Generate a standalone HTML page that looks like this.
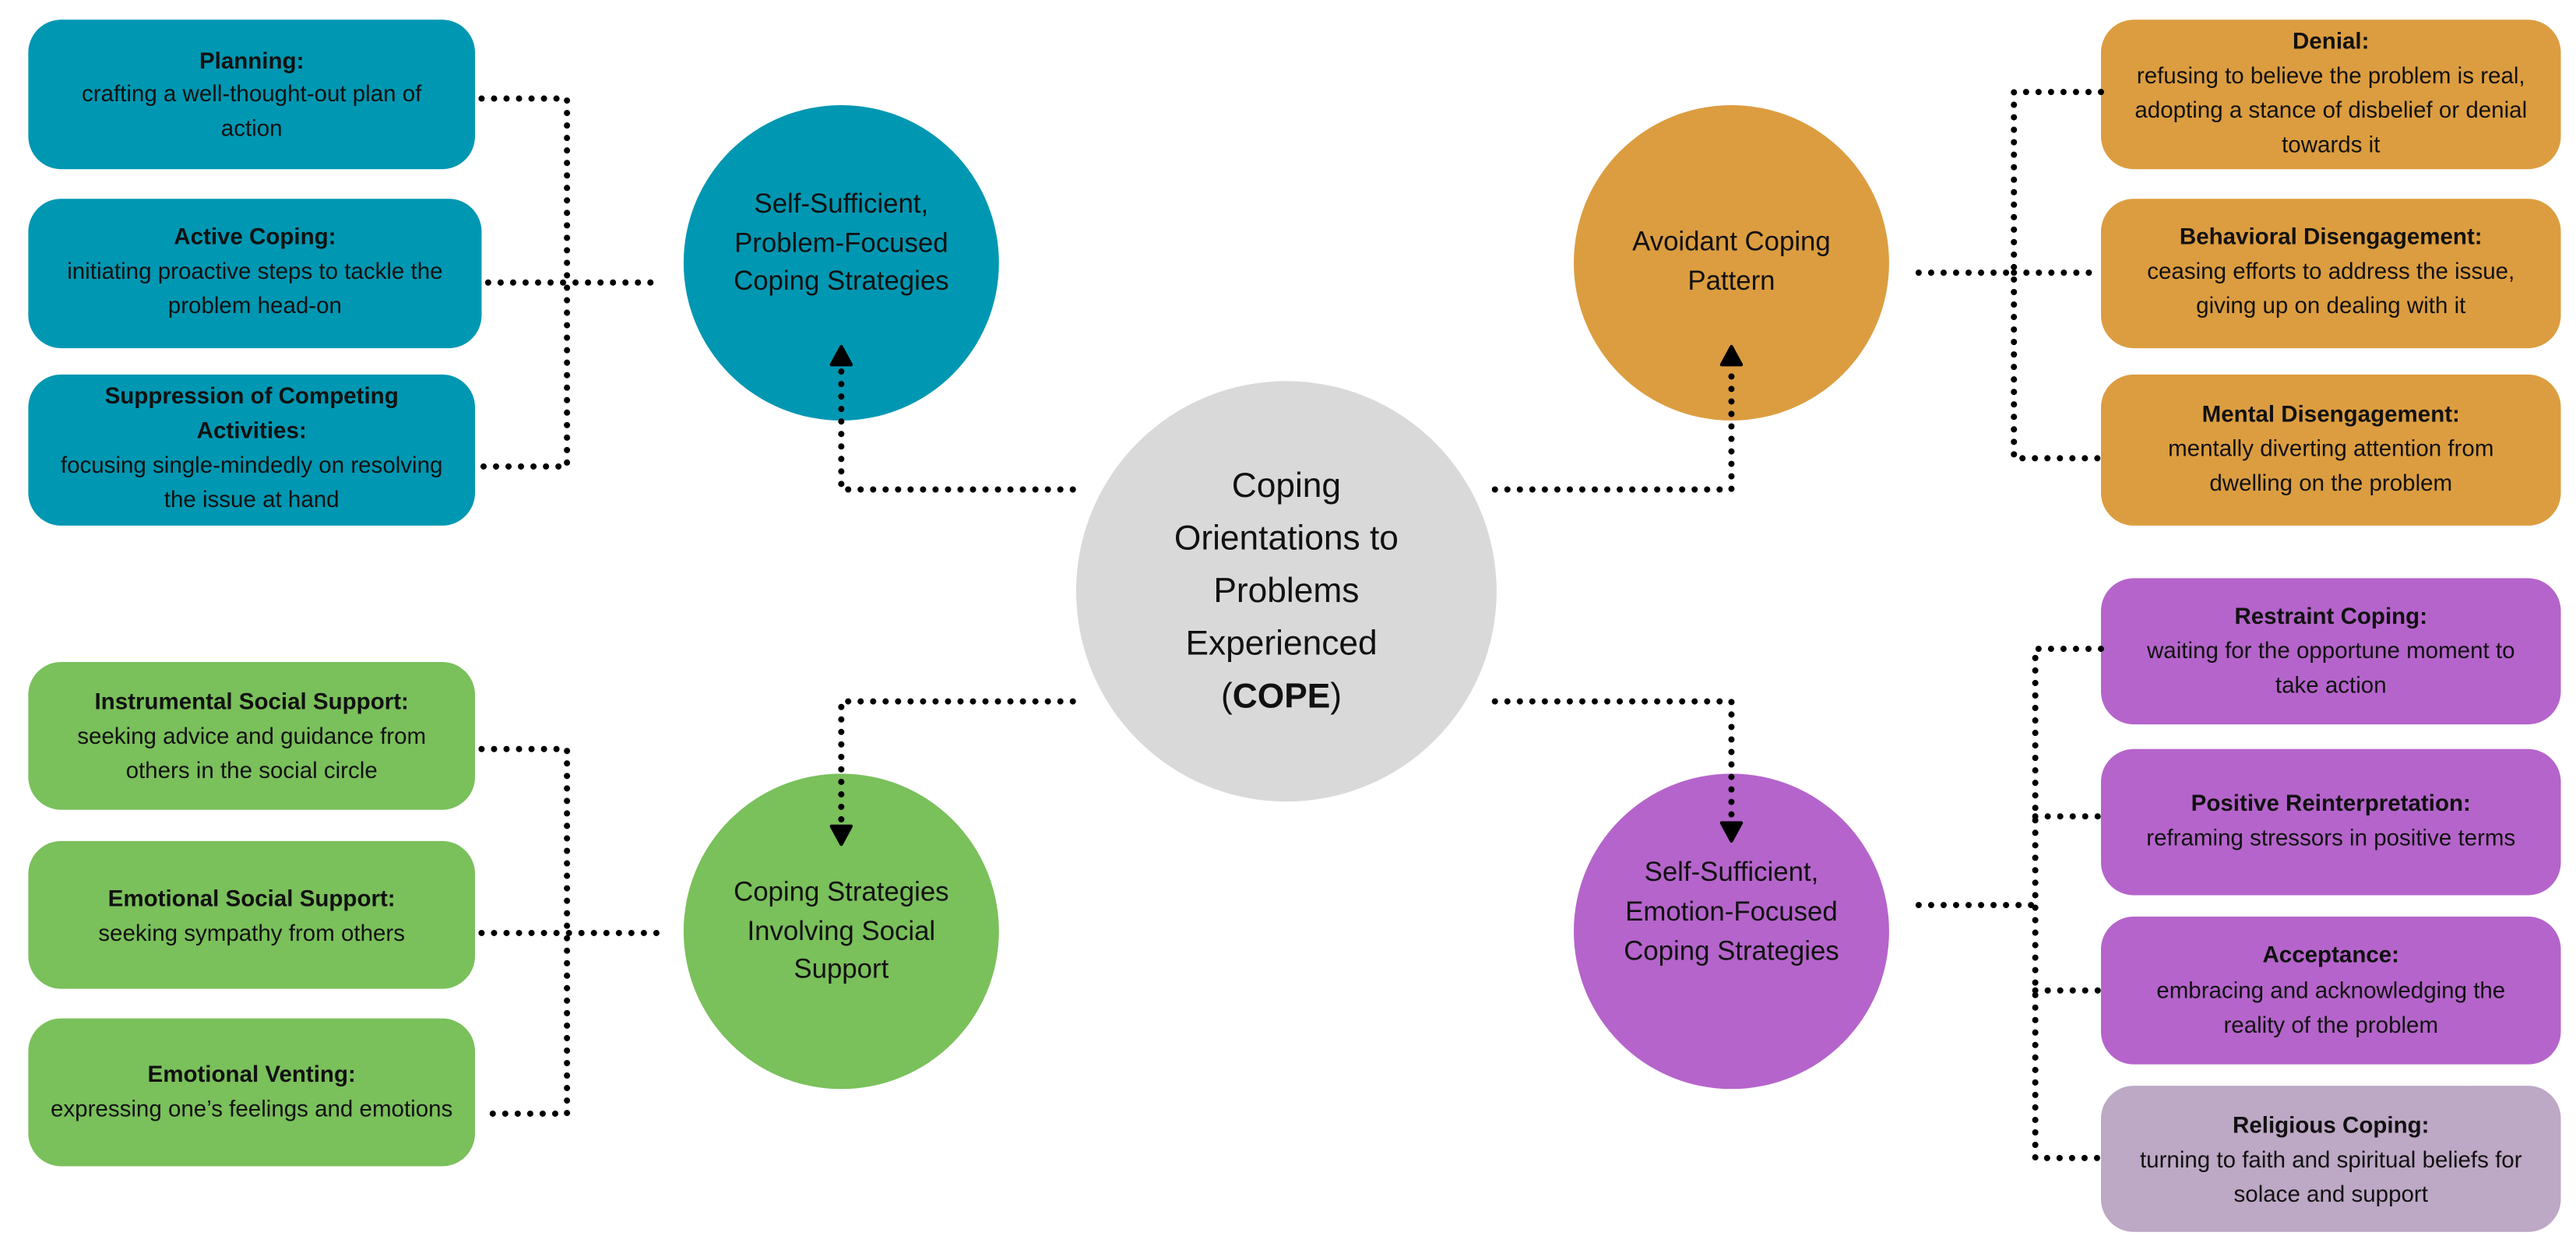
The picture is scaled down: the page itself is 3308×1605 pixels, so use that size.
<!DOCTYPE html>
<html><head><meta charset="utf-8"><style>html,body{margin:0;padding:0;background:#fff;}svg{display:block}</style></head>
<body>
<svg width="3308" height="1605" viewBox="0 0 1568 761" xmlns="http://www.w3.org/2000/svg" font-family="Liberation Sans, sans-serif">
<rect width="1568" height="761" fill="#fff"/>
<!-- circles -->
<circle cx="512" cy="160" r="96" fill="#0097b2"/>
<circle cx="1054" cy="160" r="96" fill="#dc9d40"/>
<circle cx="512" cy="567" r="96" fill="#7ac05b"/>
<circle cx="1054" cy="567" r="96" fill="#b564cb"/>
<circle cx="783" cy="360" r="128" fill="#d9d9d9"/>
<!-- boxes -->
<g>
<rect x="17" y="12" width="272" height="91" rx="20" fill="#0097b2"/>
<rect x="17" y="121" width="276" height="91" rx="20" fill="#0097b2"/>
<rect x="17" y="228" width="272" height="92" rx="20" fill="#0097b2"/>
<rect x="1279" y="12" width="280" height="91" rx="20" fill="#dc9d40"/>
<rect x="1279" y="121" width="280" height="91" rx="20" fill="#dc9d40"/>
<rect x="1279" y="228" width="280" height="92" rx="20" fill="#dc9d40"/>
<rect x="17" y="403" width="272" height="90" rx="20" fill="#7ac05b"/>
<rect x="17" y="512" width="272" height="90" rx="20" fill="#7ac05b"/>
<rect x="17" y="620" width="272" height="90" rx="20" fill="#7ac05b"/>
<rect x="1279" y="352" width="280" height="89" rx="20" fill="#b564cb"/>
<rect x="1279" y="456" width="280" height="89" rx="20" fill="#b564cb"/>
<rect x="1279" y="558" width="280" height="90" rx="20" fill="#b564cb"/>
<rect x="1279" y="661" width="280" height="89" rx="20" fill="#bda8c5"/>
</g>
<!-- connectors -->
<g fill="none" stroke="#000" stroke-width="3.8" stroke-linecap="round" stroke-dasharray="0 7.6">
<path d="M293,60 H345 V284 H293"/>
<path d="M297,172 H400"/>
<path d="M1279,56 H1226 V279 H1279"/>
<path d="M1226,166 H1279"/>
<path d="M1168,166 H1226"/>
<path d="M293,456 H345 V678 H293"/>
<path d="M293,568 H400"/>
<path d="M1279,395 H1239 V705 H1279"/>
<path d="M1239,497 H1279"/>
<path d="M1239,603 H1279"/>
<path d="M1168,551 H1239"/>
<path d="M653,298 H512 V224"/>
<path d="M910,298 H1054 V224"/>
<path d="M653,427 H512 V506"/>
<path d="M910,427 H1054 V506"/>
</g>
<g fill="#000" stroke="#000" stroke-width="2" stroke-linejoin="round">
<path d="M506,222 L512,211 L518,222 Z"/>
<path d="M1048,222 L1054,211 L1060,222 Z"/>
<path d="M506,503 L512,514 L518,503 Z"/>
<path d="M1048,501 L1054,512 L1060,501 Z"/>
</g>
<!-- text -->
<g fill="#111" font-size="14" text-anchor="middle" dominant-baseline="middle">
<g font-weight="bold">
<text x="153" y="38">Planning:</text>
<text x="155" y="145">Active Coping:</text>
<text x="153" y="242">Suppression of Competing</text>
<text x="153" y="263">Activities:</text>
<text x="1419" y="26">Denial:</text>
<text x="1419" y="145">Behavioral Disengagement:</text>
<text x="1419" y="253">Mental Disengagement:</text>
<text x="153" y="428">Instrumental Social Support:</text>
<text x="153" y="548">Emotional Social Support:</text>
<text x="153" y="655">Emotional Venting:</text>
<text x="1419" y="376">Restraint Coping:</text>
<text x="1419" y="490">Positive Reinterpretation:</text>
<text x="1419" y="582">Acceptance:</text>
<text x="1419" y="686">Religious Coping:</text>
</g>
<text x="153" y="58">crafting a well-thought-out plan of</text>
<text x="153" y="79">action</text>
<text x="155" y="166">initiating proactive steps to tackle the</text>
<text x="155" y="187">problem head-on</text>
<text x="153" y="284">focusing single-mindedly on resolving</text>
<text x="153" y="305">the issue at hand</text>
<text x="1419" y="47">refusing to believe the problem is real,</text>
<text x="1419" y="68">adopting a stance of disbelief or denial</text>
<text x="1419" y="89">towards it</text>
<text x="1419" y="166">ceasing efforts to address the issue,</text>
<text x="1419" y="187">giving up on dealing with it</text>
<text x="1419" y="274">mentally diverting attention from</text>
<text x="1419" y="295">dwelling on the problem</text>
<text x="153" y="449">seeking advice and guidance from</text>
<text x="153" y="470">others in the social circle</text>
<text x="153" y="569">seeking sympathy from others</text>
<text x="153" y="676">expressing one’s feelings and emotions</text>
<text x="1419" y="397">waiting for the opportune moment to</text>
<text x="1419" y="418">take action</text>
<text x="1419" y="511">reframing stressors in positive terms</text>
<text x="1419" y="604">embracing and acknowledging the</text>
<text x="1419" y="625">reality of the problem</text>
<text x="1419" y="707">turning to faith and spiritual beliefs for</text>
<text x="1419" y="728">solace and support</text>
</g>
<g fill="#111" font-size="16.5" text-anchor="middle" dominant-baseline="middle">
<text x="512" y="125">Self-Sufficient,</text>
<text x="512" y="149">Problem-Focused</text>
<text x="512" y="172">Coping Strategies</text>
<text x="1054" y="148">Avoidant Coping</text>
<text x="1054" y="172">Pattern</text>
<text x="512" y="544">Coping Strategies</text>
<text x="512" y="568">Involving Social</text>
<text x="512" y="591">Support</text>
<text x="1054" y="532">Self-Sufficient,</text>
<text x="1054" y="556">Emotion-Focused</text>
<text x="1054" y="580">Coping Strategies</text>
</g>
<g fill="#111" font-size="21" text-anchor="middle" dominant-baseline="middle">
<text x="783" y="297">Coping</text>
<text x="783" y="329">Orientations to</text>
<text x="783" y="361">Problems</text>
<text x="780" y="393">Experienced</text>
<text x="780" y="425">(<tspan font-weight="bold">COPE</tspan>)</text>
</g>
</svg>
</body></html>
